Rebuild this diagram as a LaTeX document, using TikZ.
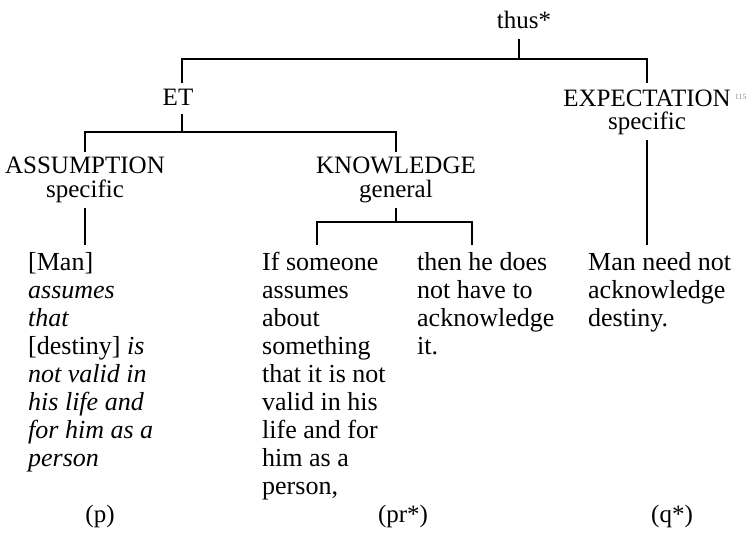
\documentclass[tikz,border=0pt]{standalone}
\usepackage{fontspec}
\setmainfont{Liberation Serif}
\begin{document}
\begin{tikzpicture}[x=1pt,y=-1pt,
  txt/.style={inner sep=0pt},
  lbl/.style={txt, align=center, anchor=base, font=\fontsize{25}{23.5}\selectfont},
  body/.style={txt, align=left, anchor=base west, font=\fontsize{26}{28}\selectfont},
  tag/.style={txt, anchor=base, font=\fontsize{25}{28}\selectfont},
  branch/.style={line width=1.1pt}]
\useasboundingbox (0,0) rectangle (756,551);

% relation labels (anchored at the baseline of their last line)
\node[lbl] (thus) at (524,29) {thus*};
\node[lbl] (et) at (178,106) {ET};
\node[lbl] (exp) at (647,129.5) {EXPECTATION\rlap{\,\raisebox{7pt}{\fontsize{8}{8}\selectfont\color{black!45}115}}\\specific};
\node[lbl] (asm) at (85,197) {ASSUMPTION\\specific};
\node[lbl] (know) at (396,197) {KNOWLEDGE\\general};

% propositions (anchored at the baseline of their last line; first line at 270)
\node[body] (p) at (28,466) {{[}Man]\\\textit{assumes}\\\textit{that}\\{[}destiny] \textit{is}\\\textit{not valid in}\\\textit{his life and}\\\textit{for him as a}\\\textit{person}};
\node[body] (pr1) at (262,494) {If someone\\assumes\\about\\something\\that it is not\\valid in his\\life and for\\him as a\\person,};
\node[body] (pr2) at (417,354) {then he does\\not have to\\acknowledge\\it.};
\node[body] (q) at (588,326) {Man need not\\acknowledge\\destiny.};

% tags under the three propositions
\node[tag] (tp) at (100,522) {(p)};
\node[tag] (tpr) at (403,522) {(pr*)};
\node[tag] (tq) at (672,522) {(q*)};

% bracket joints
\coordinate (top) at (519,59);
\coordinate (mid) at (182,132);
\coordinate (k1) at (317,222);
\coordinate (k2) at (472,222);
\coordinate (foot) at (0,245);

% tree
\draw[branch, shorten <=10pt] (thus.south -| top) -- (top);
\draw[branch, shorten <=6pt, shorten >=6pt] (et.north -| mid) |- (exp.north |- top) -- (exp.north);
\draw[branch, shorten <=8pt] (et.south -| mid) -- (mid);
\draw[branch, shorten <=5pt, shorten >=5pt] (asm.north) |- (know.north |- mid) -- (know.north);
\draw[branch, shorten <=5pt] (asm.south) -- (asm.south |- foot);
\draw[branch, shorten <=5pt] (know.south) -- (know.south |- k1);
\draw[branch] (k1 |- foot) |- (k2) -- (k2 |- foot);
\draw[branch, shorten <=5pt] (exp.south) -- (exp.south |- foot);
\end{tikzpicture}
\end{document}
